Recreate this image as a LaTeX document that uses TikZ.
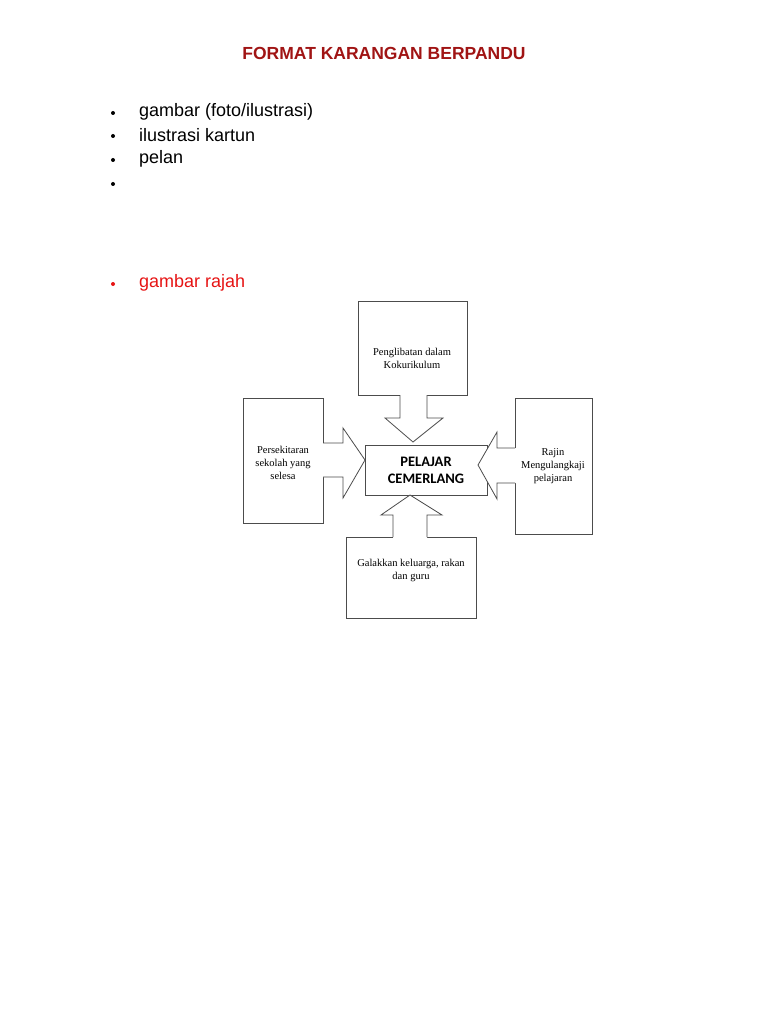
\documentclass[tikz,border=0pt]{standalone}
\usepackage{fontspec}
\setmainfont{Liberation Sans}
\newfontfamily\boxfont{Liberation Serif}
\newfontfamily\ctrfont{Carlito}
\usetikzlibrary{positioning}
\definecolor{titlered}{RGB}{160,20,20}
\definecolor{bulletred}{RGB}{230,20,20}
\tikzset{
	idea/.style={draw=black!70, line width=0.8pt, inner sep=0pt},
	ideatext/.style={align=center, inner sep=0pt, font=\boxfont\fontsize{10.5}{13}\selectfont},
	item/.style={anchor=west, inner sep=0pt, font=\fontsize{18}{20}\selectfont},
	fatarrow/.style={draw=black!70, line width=0.8pt, fill=white}
}
\begin{document}
\begin{tikzpicture}[x=1pt, y=-1pt]
	\useasboundingbox (0,0) rectangle (768,1024);

	\node[font=\bfseries\fontsize{17.5}{20}\selectfont, text=titlered] (title) at (384,53) {FORMAT KARANGAN BERPANDU};

	\foreach \y/\t [count=\i] in {112/{gambar (foto/ilustrasi)}, 135/{ilustrasi kartun}, 159/{pelan}, 183/{}}{
		\fill (113,\y+1) circle (2);
		\node[item] (item\i) at (139,\y) {\t};
	}
	\fill[bulletred] (113,284) circle (2);
	\node[item, text=bulletred] (rajah) at (139,283) {gambar rajah};

	% kotak
	\node[idea, minimum width=109pt, minimum height=94pt] (top) at (412.5,348) {};
	\node[idea, minimum width=80pt, minimum height=125pt] (left) at (283,460.5) {};
	\node[idea, minimum width=77pt, minimum height=136pt] (right) at (553.5,466) {};
	\node[idea, minimum width=130pt, minimum height=81pt] (bottom) at (411,577.5) {};
	\node[idea, minimum width=122pt, minimum height=50pt, align=center, font=\ctrfont\bfseries\fontsize{14.5}{17}\selectfont] (centre) at (426,470) {PELAJAR\\CEMERLANG};

	\node[ideatext] (toptext) at (412,358) {Penglibatan dalam\\Kokurikulum};
	\node[ideatext] (lefttext) at (283,463) {Persekitaran\\sekolah yang\\selesa};
	\node[ideatext] (righttext) at (553,466) {Rajin\\Mengulangkaji\\pelajaran};
	\node[ideatext] (bottomtext) at (411,570) {Galakkan keluarga, rakan\\dan guru};

	% anak panah
	\fill[white] (400,393) -- (400,418) -- (385,418) -- (413,442) -- (443,418) -- (427,418) -- (427,393) -- cycle;
	\draw[fatarrow, fill=none] (400,395) -- (400,418) -- (385,418) -- (413,442) -- (443,418) -- (427,418) -- (427,395);
	\fill[white] (321,443) -- (343,443) -- (343,428) -- (365,460) -- (343,498) -- (343,477) -- (321,477) -- cycle;
	\draw[fatarrow, fill=none] (323,443) -- (343,443) -- (343,428) -- (365,460) -- (343,498) -- (343,477) -- (323,477);
	\fill[white] (517,448) -- (497,448) -- (497,432) -- (478,465) -- (497,499) -- (497,483) -- (517,483) -- cycle;
	\draw[fatarrow, fill=none] (515,448) -- (497,448) -- (497,432) -- (478,465) -- (497,499) -- (497,483) -- (515,483);
	\fill[white] (393,539) -- (393,515) -- (381,515) -- (410,495) -- (442,515) -- (427,515) -- (427,539) -- cycle;
	\draw[fatarrow, fill=none] (393,537) -- (393,515) -- (381,515) -- (410,495) -- (442,515) -- (427,515) -- (427,537);
\end{tikzpicture}
\end{document}
